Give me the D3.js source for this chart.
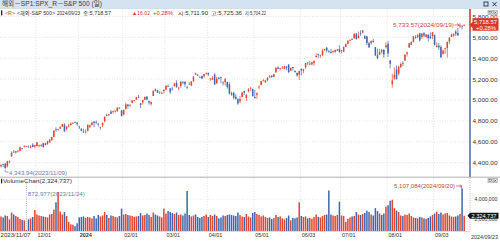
<!DOCTYPE html>
<html><head><meta charset="utf-8">
<script src="https://cdn.jsdelivr.net/npm/d3@7"></script>
<style>
body{margin:0;background:#fff;}
svg{display:block;font-family:"Liberation Sans","Noto Sans CJK KR",Arial,sans-serif;}
.nar{font-family:"Liberation Sans Narrow","Liberation Sans","Noto Sans CJK KR",sans-serif;}
</style>
</head><body>
<svg id="c" width="500" height="242"></svg>
<script>
// ---------- DATA ----------
const dates = [
 "2023/11/07","2023/11/08","2023/11/09","2023/11/10","2023/11/13","2023/11/14","2023/11/15","2023/11/16","2023/11/17","2023/11/20","2023/11/21","2023/11/22","2023/11/24","2023/11/27","2023/11/28","2023/11/29","2023/11/30",
 "2023/12/01","2023/12/04","2023/12/05","2023/12/06","2023/12/07","2023/12/08","2023/12/11","2023/12/12","2023/12/13","2023/12/14","2023/12/15","2023/12/18","2023/12/19","2023/12/20","2023/12/21","2023/12/22","2023/12/26","2023/12/27","2023/12/28","2023/12/29",
 "2024/01/02","2024/01/03","2024/01/04","2024/01/05","2024/01/08","2024/01/09","2024/01/10","2024/01/11","2024/01/12","2024/01/16","2024/01/17","2024/01/18","2024/01/19","2024/01/22","2024/01/23","2024/01/24","2024/01/25","2024/01/26","2024/01/29","2024/01/30","2024/01/31",
 "2024/02/01","2024/02/02","2024/02/05","2024/02/06","2024/02/07","2024/02/08","2024/02/09","2024/02/12","2024/02/13","2024/02/14","2024/02/15","2024/02/16","2024/02/20","2024/02/21","2024/02/22","2024/02/23","2024/02/26","2024/02/27","2024/02/28","2024/02/29",
 "2024/03/01","2024/03/04","2024/03/05","2024/03/06","2024/03/07","2024/03/08","2024/03/11","2024/03/12","2024/03/13","2024/03/14","2024/03/15","2024/03/18","2024/03/19","2024/03/20","2024/03/21","2024/03/22","2024/03/25","2024/03/26","2024/03/27","2024/03/28",
 "2024/04/01","2024/04/02","2024/04/03","2024/04/04","2024/04/05","2024/04/08","2024/04/09","2024/04/10","2024/04/11","2024/04/12","2024/04/15","2024/04/16","2024/04/17","2024/04/18","2024/04/19","2024/04/22","2024/04/23","2024/04/24","2024/04/25","2024/04/26","2024/04/29","2024/04/30",
 "2024/05/01","2024/05/02","2024/05/03","2024/05/06","2024/05/07","2024/05/08","2024/05/09","2024/05/10","2024/05/13","2024/05/14","2024/05/15","2024/05/16","2024/05/17","2024/05/20","2024/05/21","2024/05/22","2024/05/23","2024/05/24","2024/05/28","2024/05/29","2024/05/30","2024/05/31",
 "2024/06/03","2024/06/04","2024/06/05","2024/06/06","2024/06/07","2024/06/10","2024/06/11","2024/06/12","2024/06/13","2024/06/14","2024/06/17","2024/06/18","2024/06/20","2024/06/21","2024/06/24","2024/06/25","2024/06/26","2024/06/27","2024/06/28",
 "2024/07/01","2024/07/02","2024/07/03","2024/07/05","2024/07/08","2024/07/09","2024/07/10","2024/07/11","2024/07/12","2024/07/15","2024/07/16","2024/07/17","2024/07/18","2024/07/19","2024/07/22","2024/07/23","2024/07/24","2024/07/25","2024/07/26","2024/07/29","2024/07/30","2024/07/31",
 "2024/08/01","2024/08/02","2024/08/05","2024/08/06","2024/08/07","2024/08/08","2024/08/09","2024/08/12","2024/08/13","2024/08/14","2024/08/15","2024/08/16","2024/08/19","2024/08/20","2024/08/21","2024/08/22","2024/08/23","2024/08/26","2024/08/27","2024/08/28","2024/08/29","2024/08/30",
 "2024/09/03","2024/09/04","2024/09/05","2024/09/06","2024/09/09","2024/09/10","2024/09/11","2024/09/12","2024/09/13","2024/09/16","2024/09/17","2024/09/18","2024/09/19","2024/09/20","2024/09/23"
];
const open = [
 4366.21,4384.37,4391.41,4364.15,4406.66,4458.97,4505.30,4497.08,4509.55,4511.70,4538.77,4553.04,4555.84,4554.86,4545.55,4571.84,4554.87,
 4559.43,4564.37,4566.75,4586.23,4568.84,4576.20,4593.39,4618.30,4646.20,4721.04,4714.23,4725.58,4743.72,4764.73,4724.29,4753.92,4758.86,4773.45,4786.44,4782.88,
 4745.20,4725.07,4697.42,4690.57,4703.70,4741.93,4759.94,4792.13,4791.18,4772.35,4739.13,4760.10,4796.28,4853.42,4856.80,4888.56,4886.66,4888.91,4892.95,4925.89,4899.19,
 4861.11,4916.06,4957.19,4950.16,4973.05,4995.16,5004.17,5026.83,4967.94,4976.44,5003.14,5031.13,4989.32,4963.03,5038.83,5100.92,5093.00,5074.60,5067.20,5085.36,
 5098.51,5130.99,5110.52,5108.03,5132.38,5164.46,5111.96,5134.30,5173.49,5175.14,5123.31,5154.77,5139.09,5181.69,5253.43,5242.48,5219.52,5228.85,5226.31,5248.03,
 5257.97,5204.29,5194.37,5244.05,5158.95,5211.37,5217.03,5167.88,5172.95,5171.51,5149.67,5064.59,5068.97,5031.52,5005.44,4987.33,5028.85,5084.86,5019.88,5084.65,5114.13,5103.78,
 5029.03,5049.32,5122.78,5142.42,5187.20,5168.98,5189.03,5225.49,5233.08,5221.10,5263.26,5310.07,5303.10,5305.35,5298.69,5319.28,5340.26,5281.45,5315.91,5278.73,5259.77,5243.21,
 5297.15,5278.24,5314.48,5357.80,5343.81,5341.22,5353.00,5409.13,5441.93,5424.08,5431.11,5476.15,5499.99,5466.77,5459.58,5460.73,5460.71,5473.59,5488.48,
 5471.08,5461.84,5507.44,5537.91,5572.75,5584.24,5591.26,5635.21,5590.76,5638.16,5644.09,5610.07,5608.56,5543.37,5544.54,5565.30,5505.84,5428.70,5433.67,5476.55,5478.73,5505.59,
 5537.84,5376.63,5151.14,5206.42,5293.13,5252.57,5314.66,5351.95,5376.98,5442.02,5501.13,5530.50,5557.23,5602.88,5603.09,5637.77,5602.89,5639.66,5602.89,5624.51,5607.30,5612.74,
 5623.89,5506.68,5520.08,5507.33,5442.07,5490.51,5496.42,5557.48,5603.34,5615.21,5655.51,5641.68,5702.63,5709.33,5711.90
];
const high = [
 4386.26,4391.20,4393.40,4418.03,4421.76,4508.67,4521.17,4511.99,4520.12,4557.11,4542.14,4568.43,4560.31,4564.37,4568.14,4587.64,4569.89,
 4599.39,4572.37,4578.56,4590.74,4590.92,4609.23,4623.71,4643.93,4709.69,4738.57,4725.53,4749.52,4768.69,4778.01,4748.71,4772.94,4784.72,4785.39,4793.30,4788.43,
 4754.33,4729.29,4726.78,4721.49,4764.54,4765.47,4790.80,4798.50,4802.40,4782.34,4744.23,4785.79,4842.07,4868.41,4866.48,4903.68,4898.15,4906.69,4929.31,4931.09,4906.75,
 4906.97,4975.29,4957.19,4957.77,4999.89,5000.40,5030.06,5048.39,4971.30,5002.52,5032.72,5038.70,4993.71,4983.21,5094.39,5111.06,5097.66,5080.69,5077.37,5104.99,
 5140.33,5149.67,5114.54,5127.97,5165.62,5189.26,5124.66,5179.87,5179.14,5176.85,5136.86,5170.28,5180.31,5226.19,5261.10,5246.09,5229.09,5235.16,5249.26,5264.85,
 5263.95,5208.34,5228.75,5256.59,5222.18,5219.57,5224.81,5178.43,5211.78,5175.03,5168.43,5079.84,5077.96,5056.66,5019.02,5038.84,5076.12,5089.48,5057.75,5114.62,5123.49,5110.83,
 5096.12,5073.21,5139.12,5181.00,5200.23,5191.95,5215.30,5239.66,5237.26,5250.37,5311.76,5325.49,5305.45,5325.32,5324.32,5323.18,5341.88,5311.65,5315.91,5282.27,5260.21,5280.33,
 5302.11,5298.80,5354.16,5362.35,5375.08,5365.79,5375.95,5447.25,5441.93,5432.39,5488.50,5490.38,5505.53,5478.31,5490.66,5472.88,5483.14,5490.81,5523.64,
 5479.55,5509.69,5539.27,5570.33,5583.11,5590.75,5635.39,5642.45,5655.56,5666.94,5669.67,5622.49,5614.05,5557.50,5570.36,5585.34,5508.04,5491.59,5488.32,5487.74,5489.46,5551.51,
 5566.16,5383.89,5250.89,5312.34,5330.64,5328.03,5358.94,5371.20,5436.50,5463.22,5546.23,5561.98,5608.30,5620.51,5632.68,5643.22,5641.82,5651.62,5631.18,5627.03,5646.95,5651.37,
 5623.89,5552.99,5546.30,5522.47,5484.20,5497.91,5560.41,5600.71,5636.27,5636.05,5670.81,5689.75,5733.57,5715.14,5725.36
];
const low = [
 4355.41,4359.76,4343.94,4353.34,4393.82,4458.97,4495.31,4487.83,4499.66,4510.36,4525.51,4545.05,4552.80,4545.07,4537.11,4547.15,4537.24,
 4554.71,4546.72,4551.68,4546.50,4565.22,4574.06,4593.39,4608.09,4643.23,4694.34,4704.69,4725.58,4743.72,4697.82,4708.35,4736.77,4758.45,4768.90,4780.98,4751.99,
 4722.67,4699.71,4687.53,4682.11,4699.82,4730.35,4756.20,4739.58,4768.98,4747.12,4714.82,4740.57,4785.87,4844.05,4844.37,4865.94,4869.34,4881.47,4887.40,4916.32,4845.15,
 4853.52,4907.99,4918.09,4934.88,4969.05,4987.09,5000.34,5016.83,4920.31,4956.45,4999.44,4999.52,4955.02,4946.00,5038.83,5081.46,5068.91,5057.29,5058.35,5061.89,
 5094.16,5127.18,5056.82,5092.22,5128.21,5117.50,5091.14,5114.48,5151.88,5123.30,5104.35,5146.86,5131.59,5171.55,5240.66,5229.87,5216.09,5203.42,5213.92,5245.82,
 5229.20,5184.05,5194.37,5146.06,5157.21,5197.35,5160.78,5138.70,5138.77,5107.94,5052.47,5039.83,5007.25,5001.89,4953.56,4969.40,5027.96,5047.02,4990.58,5073.14,5088.65,5035.31,
 5013.45,5011.05,5101.22,5142.42,5178.96,5165.86,5180.41,5209.68,5211.16,5217.98,5263.26,5296.19,5283.59,5302.40,5297.87,5286.01,5256.93,5278.39,5280.89,5262.70,5222.10,5191.68,
 5234.32,5257.63,5297.64,5335.36,5331.33,5331.52,5327.25,5409.13,5402.51,5403.75,5420.40,5471.32,5455.56,5452.03,5447.59,5446.56,5451.87,5467.54,5451.12,
 5446.53,5458.43,5507.42,5531.63,5562.51,5574.57,5586.44,5576.53,5590.44,5614.75,5639.02,5584.81,5522.81,5497.04,5529.04,5550.90,5419.98,5390.95,5430.70,5444.44,5403.84,5493.75,
 5410.42,5302.03,5119.26,5193.56,5195.54,5233.85,5306.41,5324.37,5376.98,5415.44,5501.13,5525.17,5550.74,5585.50,5591.57,5560.95,5585.16,5602.34,5593.48,5560.99,5583.71,5581.79,
 5520.16,5503.66,5480.03,5402.62,5434.49,5441.72,5406.96,5535.50,5601.65,5604.53,5614.05,5615.08,5686.42,5674.49,5704.22
];
const close = [
 4378.38,4382.78,4347.35,4415.24,4411.55,4495.70,4502.88,4508.24,4514.02,4547.38,4538.19,4556.62,4559.34,4550.43,4554.89,4550.58,4567.80,
 4594.63,4569.78,4567.18,4549.34,4585.59,4604.37,4622.44,4643.70,4707.09,4719.55,4719.19,4740.56,4768.37,4698.35,4746.75,4754.63,4774.75,4781.58,4783.35,4769.83,
 4742.83,4704.81,4688.68,4697.24,4763.54,4756.50,4783.45,4780.24,4783.83,4765.98,4739.21,4780.94,4839.81,4850.43,4864.60,4868.55,4894.16,4890.97,4927.93,4924.97,4845.65,
 4906.19,4958.61,4942.81,4954.23,4995.06,4997.91,5026.61,5021.84,4953.17,5000.62,5029.73,5005.57,4975.51,4981.80,5087.03,5088.80,5069.53,5078.18,5069.76,5096.27,
 5137.08,5130.95,5078.65,5104.76,5157.36,5123.69,5117.94,5175.27,5165.31,5150.48,5117.09,5149.42,5178.51,5224.62,5241.53,5234.18,5218.19,5203.58,5248.49,5254.35,
 5243.77,5205.81,5211.49,5147.21,5204.34,5202.39,5209.91,5160.64,5199.06,5123.41,5061.82,5051.41,5022.21,5011.12,4967.23,5010.60,5070.55,5071.63,5048.42,5099.96,5116.17,5035.69,
 5018.39,5064.20,5127.79,5180.74,5187.70,5187.67,5214.08,5222.68,5221.42,5246.68,5308.15,5297.10,5303.27,5308.13,5321.41,5307.01,5267.84,5304.72,5306.04,5266.95,5235.48,5277.51,
 5283.40,5291.34,5354.03,5352.96,5346.99,5360.79,5375.32,5421.03,5433.74,5431.60,5473.23,5487.03,5473.17,5464.62,5447.87,5469.30,5477.90,5482.87,5460.48,
 5475.09,5509.01,5537.02,5567.19,5572.85,5576.98,5633.91,5584.54,5615.35,5631.22,5667.20,5588.27,5544.59,5505.00,5564.41,5555.74,5427.13,5399.22,5459.10,5463.54,5436.44,5522.30,
 5446.68,5346.56,5186.33,5240.03,5199.50,5319.31,5344.16,5344.39,5434.43,5455.21,5543.22,5554.25,5608.25,5597.12,5620.85,5570.64,5634.61,5616.84,5625.80,5592.18,5591.96,5648.40,
 5528.93,5520.07,5503.41,5408.42,5471.05,5495.52,5554.13,5595.76,5626.02,5633.09,5634.58,5618.26,5713.64,5702.55,5718.57
];
const volume = [
 2250000,2150000,2350000,2300000,1950000,2650000,2450000,2300000,2200000,2000000,1900000,1850000,872977,1950000,2050000,2200000,2900000,
 2450000,2350000,2300000,2250000,2200000,2150000,2450000,2500000,2950000,3700000,4750000,2750000,2450000,2700000,2300000,1700000,1450000,1400000,1250000,1550000,
 2150000,2200000,2250000,2100000,2200000,2150000,2050000,2300000,2050000,2400000,2250000,2350000,2700000,2400000,2100000,2350000,2300000,2200000,2150000,2300000,3050000,
 2450000,2500000,2400000,2350000,2300000,2200000,2250000,2300000,2600000,2350000,2400000,2550000,2400000,2200000,2650000,2450000,2350000,2250000,2150000,3050000,
 2550000,2800000,2700000,2600000,2500000,2650000,2400000,2450000,2350000,2550000,4850000,2400000,2250000,2350000,2450000,2200000,2100000,2200000,2300000,2450000,
 2200000,2400000,2300000,2450000,2300000,2050000,2150000,2350000,2300000,2400000,2450000,2400000,2350000,2300000,2650000,2400000,2250000,2200000,2500000,2250000,2150000,2600000,
 2700000,2500000,2400000,2250000,2350000,2200000,2100000,2150000,2000000,2100000,2400000,2200000,2250000,2050000,1950000,2100000,2350000,1850000,2100000,2050000,2150000,3700000,
 2300000,2200000,2250000,2050000,2100000,2000000,2200000,2450000,2200000,2150000,2300000,2400000,2450000,4900000,2450000,2350000,2300000,2400000,3750000,
 2350000,2300000,1700000,2000000,2150000,2250000,2300000,2700000,2450000,2400000,2500000,2600000,2850000,2700000,2450000,2350000,3100000,2800000,2550000,2400000,2550000,3250000,
 3400000,3850000,3950000,3100000,2850000,2700000,2350000,2300000,2450000,2400000,2550000,2300000,2150000,2100000,2050000,2200000,2150000,2050000,2000000,2100000,2250000,2400000,
 2550000,2750000,2500000,2650000,2450000,2550000,2600000,2350000,2250000,2200000,2250000,2350000,2500000,5107084,2324737
];
const priceTicks = [4400, 4600, 4800, 5000, 5200, 5400, 5600, 5800];
const volumeTicks = [2000000, 4000000];
const dateTicks = ["2023/11/07","2023/12/01","2024/01/02","2024/02/01","2024/03/01","2024/04/01","2024/05/01","2024/06/03","2024/07/01","2024/08/01","2024/09/03"];
const dateTickLabels = ["2023/11/07","12/01","2024","02/01","03/01","04/01","05/01","06/03","07/01","08/01","09/03"];

// ---------- DRAW ----------
const UP = "#e4432d", DOWN = "#3e66b0", ANN_UP = "#c9463a", ANN_DN = "#6a7ea6", TXT = "#333";
const svg = d3.select("#c");
const n = dates.length;
const x = d3.scalePoint().domain(dates).range([1, 464.2]);
const yP = d3.scaleLinear().domain([4400, 5800]).range([162.7, 16.4]);
const yV = d3.scaleLinear().domain([2000000, 4000000]).range([218.9, 199.3]);
const VBASE = 231;
const isUp = i => close[i] >= open[i];
function fit(sel, w){ return sel.attr("textLength", w).attr("lengthAdjust","spacingAndGlyphs"); }

// title bar
svg.append("rect").attr("x",0).attr("y",0).attr("width",500).attr("height",8).attr("fill","#d4e3f1");
svg.append("line").attr("x1",0).attr("x2",500).attr("y1",8.5).attr("y2",8.5).attr("stroke","#b9cadb").attr("stroke-width",0.6);
fit(svg.append("text").attr("x",2).attr("y",6.4).attr("font-size",6.4).attr("fill","#3a3a3a").text("해외－SP1:SPX_R－S&P 500 (일)"), 100);
svg.append("rect").attr("x",484).attr("y",2).attr("width",4).attr("height",4).attr("fill","none").attr("stroke","#24344f").attr("stroke-width",0.9);
svg.append("path").attr("d","M492.5,2.2 L496.5,6.2 M496.5,2.2 L492.5,6.2").attr("stroke","#24344f").attr("stroke-width",1);

// grid
const grid = svg.append("g");
priceTicks.forEach(t => grid.append("line").attr("x1",0).attr("x2",469).attr("y1",yP(t)).attr("y2",yP(t))
  .attr("stroke","#cdcdcd").attr("stroke-width",0.6).attr("stroke-dasharray","1,1.6"));
volumeTicks.forEach(t => grid.append("line").attr("x1",0).attr("x2",469).attr("y1",yV(t)).attr("y2",yV(t))
  .attr("stroke","#dadada").attr("stroke-width",0.6).attr("stroke-dasharray","1,1.6"));
dateTicks.slice(1).forEach(d => grid.append("line").attr("x1",x(d)-1).attr("x2",x(d)-1).attr("y1",9).attr("y2",VBASE)
  .attr("stroke","#cdcdcd").attr("stroke-width",0.6).attr("stroke-dasharray","1,1.6"));

// info line
const info = svg.append("g").attr("font-size",5.1).attr("class","nar");
info.append("rect").attr("x",1).attr("y",10.4).attr("width",1.3).attr("height",5).attr("fill","#222");
[["<R>",5,10,"#d0352a"],["<해외-S&P 500>",17,38,TXT],["2024/09/23",57,23,TXT],["종:5,718.57",83,28,TXT],
 ["▲16.02",132,18,"#d0352a"],["+0.28%",153,20,"#d0352a"],["시:5,711.90",178,30,TXT],["고:5,725.36",211,31,TXT],["저:5,704.22",245,21,TXT]]
 .forEach(([t,xx,w,c]) => fit(info.append("text").attr("x",xx).attr("y",15.2).attr("fill",c).text(t), w));

// candles
const cg = svg.append("g");
cg.selectAll("line").data(d3.range(n)).join("line")
  .attr("x1", i => x(dates[i])).attr("x2", i => x(dates[i]))
  .attr("y1", i => yP(high[i])).attr("y2", i => yP(low[i]))
  .attr("stroke", i => isUp(i) ? UP : DOWN).attr("stroke-width", 0.7);
cg.selectAll("rect").data(d3.range(n)).join("rect")
  .attr("x", i => x(dates[i]) - 0.75).attr("width", 1.5)
  .attr("y", i => yP(Math.max(open[i], close[i])))
  .attr("height", i => Math.max(0.7, Math.abs(yP(open[i]) - yP(close[i]))))
  .attr("fill", i => isUp(i) ? UP : DOWN);

// price annotations
const iMax = high.indexOf(d3.max(high)), iMin = low.indexOf(d3.min(low));
const pa = svg.append("g").attr("font-size",6);
fit(pa.append("text").attr("x", x(dates[iMax]) - 67).attr("y", yP(high[iMax]) + 3.8).attr("fill",ANN_UP)
  .text(d3.format(",.2f")(high[iMax]) + "(" + dates[iMax] + ")"), 61);
pa.append("path").attr("d", `M${x(dates[iMax]) - 5.5},${yP(high[iMax]) + 1.6} H${x(dates[iMax]) - 0.8} M${x(dates[iMax]) - 2.6},${yP(high[iMax]) + 0.2} L${x(dates[iMax]) - 0.8},${yP(high[iMax]) + 1.6} L${x(dates[iMax]) - 2.6},${yP(high[iMax]) + 3}`)
  .attr("stroke",ANN_UP).attr("stroke-width",0.7).attr("fill","none");
pa.append("path").attr("d", `M${x(dates[iMin])},${yP(low[iMin]) + 1} V172 H8.5`).attr("stroke",ANN_DN).attr("stroke-width",0.7).attr("fill","none");
fit(pa.append("text").attr("x",9).attr("y",174.6).attr("fill",ANN_DN).text(d3.format(",.2f")(low[iMin]) + "(" + dates[iMin] + ")"), 58);

// price axis
svg.append("line").attr("x1",470).attr("x2",470).attr("y1",9).attr("y2",31).attr("stroke","#d23a2c").attr("stroke-width",1.6);
svg.append("line").attr("x1",470).attr("x2",470).attr("y1",31).attr("y2",177).attr("stroke","#5673aa").attr("stroke-width",1.6);
const pAxis = svg.append("g").attr("transform","translate(471,0)")
  .call(d3.axisRight(yP).tickValues(priceTicks).tickFormat(d3.format(",.2f")).tickSize(0).tickPadding(1.5));
pAxis.select(".domain").remove();
pAxis.selectAll("text").attr("font-size",6.2).attr("fill",TXT).attr("font-family",null)
  .attr("textLength",25).attr("lengthAdjust","spacingAndGlyphs");

// panel buttons
function buttons(y0){
  svg.append("rect").attr("x",488).attr("y",y0).attr("width",4.2).attr("height",4.2).attr("fill","#f4f4f4").attr("stroke","#8a8a8a").attr("stroke-width",0.5);
  svg.append("rect").attr("x",489).attr("y",y0+1).attr("width",2.2).attr("height",1.6).attr("fill","none").attr("stroke","#444").attr("stroke-width",0.5);
  svg.append("rect").attr("x",493.2).attr("y",y0).attr("width",4.2).attr("height",4.2).attr("fill","#f4f4f4").attr("stroke","#8a8a8a").attr("stroke-width",0.5);
  svg.append("path").attr("d",`M494.1,${y0+0.9} L496.5,${y0+3.3} M496.5,${y0+0.9} L494.1,${y0+3.3}`).attr("stroke","#333").attr("stroke-width",0.6);
}
buttons(10.5);

// current price box
const yc = yP(close[n-1]);
svg.append("path").attr("d",`M469.5,${yc} L472.5,${yc-3} V18.3 H498.5 V30.8 H472.5 V${yc+3} Z`).attr("fill","#d9392c");
fit(svg.append("text").attr("x",474).attr("y",23.7).attr("font-size",6.2).attr("fill","#fff").text(d3.format(",.2f")(close[n-1])), 23);
fit(svg.append("text").attr("x",476).attr("y",30).attr("font-size",6.2).attr("fill","#fff").text("+0.28%"), 20);

// panel separator
svg.append("line").attr("x1",0).attr("x2",500).attr("y1",177.2).attr("y2",177.2).attr("stroke","#9a9a9a").attr("stroke-width",0.8);
svg.append("rect").attr("x",1).attr("y",178.8).attr("width",1.2).attr("height",4.6).attr("fill","#222");
fit(svg.append("text").attr("x",3).attr("y",183.4).attr("font-size",6).attr("fill",TXT).text("VolumeChart(" + d3.format(",")(volume[n-1]) + ")"), 69);
buttons(178.6);

// volume bars
svg.append("g").selectAll("rect").data(d3.range(n)).join("rect")
  .attr("x", i => x(dates[i]) - 0.75).attr("width", 1.5)
  .attr("y", i => yV(volume[i])).attr("height", i => Math.max(0, VBASE - yV(volume[i])))
  .attr("fill", i => isUp(i) ? UP : DOWN);

// volume annotations
const vMax = volume.indexOf(d3.max(volume)), vMin = volume.indexOf(d3.min(volume));
const va = svg.append("g").attr("font-size",6);
fit(va.append("text").attr("x", x(dates[vMax]) - 68).attr("y", 188.3).attr("fill",ANN_UP)
  .text(d3.format(",")(volume[vMax]) + "(" + dates[vMax] + ")"), 61);
va.append("path").attr("d", `M${x(dates[vMax]) - 6},186 H${x(dates[vMax]) - 0.5} V${yV(volume[vMax])} M${x(dates[vMax]) - 2.3},184.6 L${x(dates[vMax]) - 0.5},186 L${x(dates[vMax]) - 2.3},187.4`)
  .attr("stroke",ANN_UP).attr("stroke-width",0.7).attr("fill","none");
va.append("line").attr("x1", x(dates[vMin])).attr("x2", x(dates[vMin])).attr("y1",179).attr("y2", yV(volume[vMin]))
  .attr("stroke",ANN_DN).attr("stroke-width",0.6).attr("stroke-dasharray","1,1.2");
fit(va.append("text").attr("x", x(dates[vMin]) + 1.5).attr("y",195.6).attr("fill",ANN_DN)
  .text(d3.format(",")(volume[vMin]) + "(" + dates[vMin] + ")"), 57);

// volume axis
svg.append("line").attr("x1",470).attr("x2",470).attr("y1",178).attr("y2",VBASE).attr("stroke","#888").attr("stroke-width",0.6).attr("stroke-dasharray","1,1.2");
const vAxis = svg.append("g").attr("transform","translate(471,0)")
  .call(d3.axisRight(yV).tickValues(volumeTicks).tickFormat(d3.format(",")).tickSize(0).tickPadding(3.5));
vAxis.select(".domain").remove();
vAxis.selectAll("text").attr("font-size",5.2).attr("fill",TXT).attr("font-family",null)
  .attr("textLength",23).attr("lengthAdjust","spacingAndGlyphs");
const yvc = yV(volume[n-1]);
svg.append("path").attr("d",`M467.5,${yvc} L470,${yvc-3} H498.5 V${yvc+3} H470 Z`).attr("fill","#151515");
fit(svg.append("text").attr("x",471.5).attr("y",yvc+2.2).attr("font-size",5.5).attr("fill","#fff").text(d3.format(",")(volume[n-1])), 25);

// x axis
svg.append("line").attr("x1",0).attr("x2",470).attr("y1",VBASE+0.5).attr("y2",VBASE+0.5).attr("stroke","#c4c4c4").attr("stroke-width",0.6);
const xAxis = svg.append("g").attr("transform",`translate(0,${VBASE})`)
  .call(d3.axisBottom(x).tickValues(dateTicks).tickFormat((d,i) => dateTickLabels[i]).tickSize(0).tickPadding(1.5));
xAxis.select(".domain").remove();
xAxis.selectAll("text").attr("font-size",6.2).attr("fill",TXT).attr("font-family",null)
  .attr("text-anchor","start").attr("dx",(d,i) => i === 0 ? -1 : 0)
  .attr("textLength",(d,i) => i === 0 ? 30 : (d === "2024/01/02" ? 12 : 13.5)).attr("lengthAdjust","spacingAndGlyphs")
  .attr("font-weight", d => d === "2024/01/02" ? "bold" : null);
fit(svg.append("text").attr("x",471).attr("y",239.2).attr("font-size",5.4).attr("fill",TXT).text(dates[n-1]), 27);
</script>
</body></html>
